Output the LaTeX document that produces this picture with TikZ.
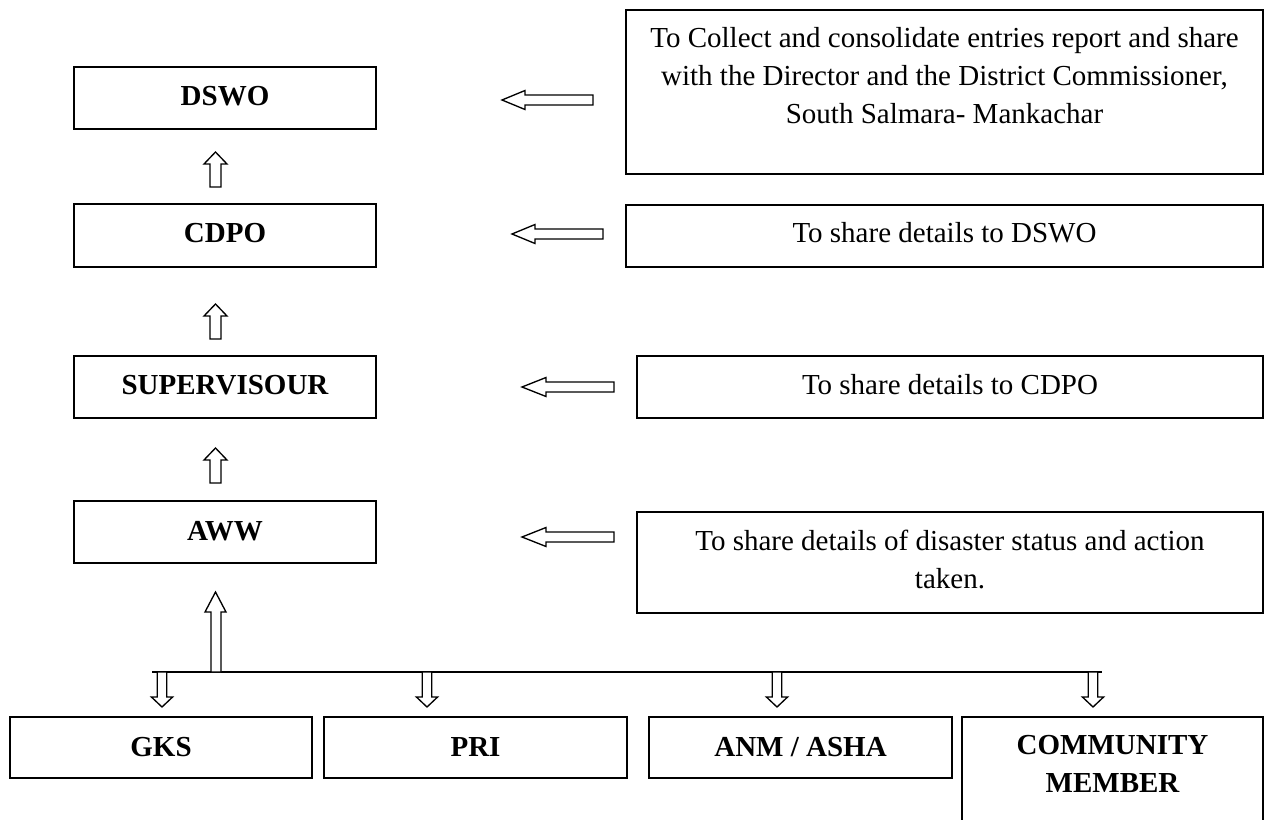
\documentclass[tikz,border=0pt]{standalone}
\usepackage{fontspec}
\setmainfont{Liberation Serif}
\usepackage{tikz}

\begin{document}
\begin{tikzpicture}[x=0.75pt,y=0.75pt,yscale=-1,xscale=1,
  boxline/.style={line width=1.25pt},
  barrow/.style={line width=1pt,fill=white},
  lbl/.style={inner sep=0pt,anchor=base,font=\fontsize{21.75}{28.5}\selectfont\bfseries},
  txt/.style={inner sep=0pt,anchor=base,font=\fontsize{21.75}{28.5}\selectfont},
  txtblock/.style={inner sep=0pt,anchor=north,align=center,font=\fontsize{21.75}{28.5}\selectfont}]
\useasboundingbox (0,0) rectangle (1267,820);

%Shape: Rectangle
\draw[boxline] (74,67) rectangle (376,129);
%Shape: Rectangle
\draw[boxline] (74,204) rectangle (376,267);
%Shape: Rectangle
\draw[boxline] (74,356) rectangle (376,418);
%Shape: Rectangle
\draw[boxline] (74,501) rectangle (376,563);

%Shape: Rectangle
\draw[boxline] (626,10) rectangle (1263,174);
%Shape: Rectangle
\draw[boxline] (626,205) rectangle (1263,267);
%Shape: Rectangle
\draw[boxline] (637,356) rectangle (1263,418);
%Shape: Rectangle
\draw[boxline] (637,512) rectangle (1263,613);

%Shape: Rectangle
\draw[boxline] (10,717) rectangle (312,778);
%Shape: Rectangle
\draw[boxline] (324,717) rectangle (627,778);
%Shape: Rectangle
\draw[boxline] (649,717) rectangle (952,778);
%Shape: Rectangle (open at the bottom)
\draw[boxline] (962,820) -- (962,717) -- (1263,717) -- (1263,820);

%Shape: Left Arrow
\draw[barrow] (502,100) -- (525,90.5) -- (525,95) -- (593,95) -- (593,105) -- (525,105) -- (525,109.5) -- cycle;
%Shape: Left Arrow
\draw[barrow] (512,234) -- (535,224.5) -- (535,229) -- (603,229) -- (603,239) -- (535,239) -- (535,243.5) -- cycle;
%Shape: Left Arrow
\draw[barrow] (522,387) -- (546,377.5) -- (546,382) -- (614,382) -- (614,392) -- (546,392) -- (546,396.5) -- cycle;
%Shape: Left Arrow
\draw[barrow] (522,537) -- (546,527.5) -- (546,532) -- (614,532) -- (614,542) -- (546,542) -- (546,546.5) -- cycle;

%Shape: Up Arrow
\draw[barrow] (215.5,152) -- (227,164) -- (221,164) -- (221,187) -- (210,187) -- (210,164) -- (204,164) -- cycle;
%Shape: Up Arrow
\draw[barrow] (215.5,304) -- (227,316) -- (221,316) -- (221,339) -- (210,339) -- (210,316) -- (204,316) -- cycle;
%Shape: Up Arrow
\draw[barrow] (215.5,448) -- (227,460) -- (221,460) -- (221,483) -- (210,483) -- (210,460) -- (204,460) -- cycle;

%Straight Lines
\coordinate (busL) at (152,672);
\coordinate (busR) at (1102,672);
\draw[boxline] (busL) -- (busR);

%Shape: Up Arrow
\draw[barrow] (215.5,592) -- (226,612) -- (221,612) -- (221,672) -- (211,672) -- (211,612) -- (205,612) -- cycle;

%Shape: Down Arrow
\draw[barrow] (157.3,672) -- (166.7,672) -- (166.7,697) -- (172.6,697) -- (162,707) -- (151.4,697) -- (157.3,697) -- cycle;
%Shape: Down Arrow
\draw[barrow] (422.3,672) -- (431.7,672) -- (431.7,697) -- (437.6,697) -- (427,707) -- (416.4,697) -- (422.3,697) -- cycle;
%Shape: Down Arrow
\draw[barrow] (772.3,672) -- (781.7,672) -- (781.7,697) -- (787.6,697) -- (777,707) -- (766.4,697) -- (772.3,697) -- cycle;
%Shape: Down Arrow
\draw[barrow] (1088.3,672) -- (1097.7,672) -- (1097.7,697) -- (1103.6,697) -- (1093,707) -- (1082.4,697) -- (1088.3,697) -- cycle;

% Text Node
\node[lbl] (dswo) at (225,106) {DSWO};
% Text Node
\node[lbl] (cdpo) at (225,243) {CDPO};
% Text Node
\node[lbl] (sup) at (225,394) {SUPERVISOUR};
% Text Node
\node[lbl] (aww) at (225,540) {AWW};

% Text Node
\node[txtblock] (collect) at (944.5,27) {To Collect and consolidate entries report and share\\
with the Director and the District Commissioner,\\
South Salmara- Mankachar};
% Text Node
\node[txt] (toDswo) at (944.5,243) {To share details to DSWO};
% Text Node
\node[txt] (toCdpo) at (950,394) {To share details to CDPO};
% Text Node
\node[txtblock] (disaster) at (950,530) {To share details of disaster status and action\\
taken.};

% Text Node
\node[lbl] (gks) at (161,756) {GKS};
% Text Node
\node[lbl] (pri) at (475.5,756) {PRI};
% Text Node
\node[lbl] (anm) at (800.5,756) {ANM / ASHA};
% Text Node
\node[txtblock,font=\fontsize{21.75}{28.5}\selectfont\bfseries] (comm) at (1112.5,735) {COMMUNITY\\
MEMBER};

\end{tikzpicture}
\end{document}
